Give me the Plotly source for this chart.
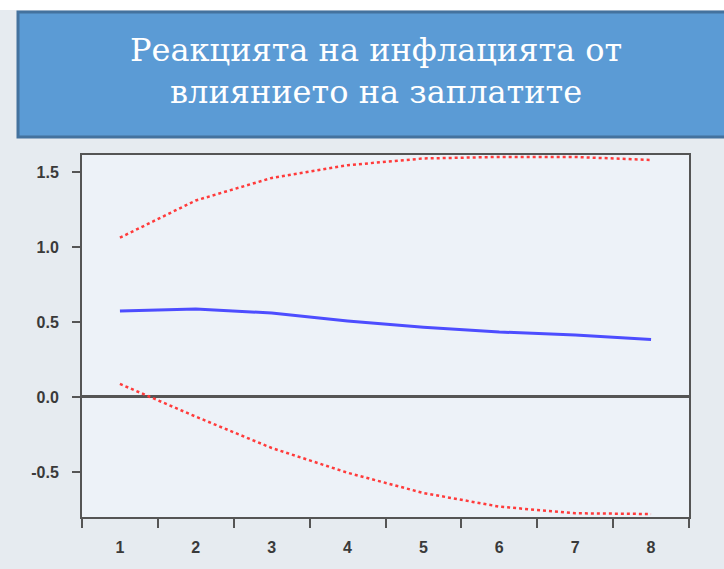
import plotly.graph_objects as go

periods = ["1", "2", "3", "4", "5", "6", "7", "8"]
response = [0.573, 0.587, 0.56, 0.507, 0.465, 0.433, 0.413, 0.383]
upper_band = [1.062, 1.31, 1.46, 1.545, 1.59, 1.6, 1.6, 1.58]
lower_band = [0.087, -0.131, -0.34, -0.505, -0.64, -0.731, -0.775, -0.78]
title_lines = ["Реакцията на инфлацията от", "влиянието на заплатите"]
y_ticks = [-0.5, 0.0, 0.5, 1.0, 1.5]
y_tick_text = ["-0.5", "0.0", "0.5", "1.0", "1.5"]

W, H = 724, 569
L, R, T, B = 82, 35, 155, 52
pw, ph = W - L - R, H - T - B

def px_x(v):
    return (v - L) / pw

def px_y(v):
    return 1 + (T - v) / ph

fig = go.Figure()
fig.add_trace(go.Scatter(x=periods, y=upper_band, mode="lines",
                         line=dict(color="#ff3b3b", width=2.5, dash="dot"),
                         hoverinfo="skip"))
fig.add_trace(go.Scatter(x=periods, y=lower_band, mode="lines",
                         line=dict(color="#ff3b3b", width=2.5, dash="dot"),
                         hoverinfo="skip"))
fig.add_trace(go.Scatter(x=periods, y=response, mode="lines",
                         line=dict(color="#4d4dff", width=3)))

fig.add_shape(type="rect", xref="paper", yref="paper",
              x0=px_x(0), x1=px_x(W), y0=px_y(0), y1=px_y(10),
              fillcolor="#ffffff", line=dict(width=0), layer="below")
fig.add_shape(type="rect", xref="paper", yref="paper",
              x0=px_x(18), x1=px_x(736), y0=px_y(137), y1=px_y(12),
              fillcolor="#5b9bd5", line=dict(color="#44729e", width=3))
fig.add_annotation(xref="paper", yref="paper", x=px_x(376), y=px_y(71),
                   xanchor="center", yanchor="middle", showarrow=False,
                   text="<br>".join(title_lines),
                   font=dict(family="DejaVu Serif", size=32, color="white"))

fig.update_layout(
    width=W, height=H,
    margin=dict(l=L, r=R, t=T, b=B),
    paper_bgcolor="#e6ebf0",
    plot_bgcolor="#edf2f8",
    showlegend=False,
    xaxis=dict(type="category", range=[-0.5, 7.5], tickson="boundaries",
               ticks="outside", ticklen=9, tickwidth=2, tickcolor="#555",
               showgrid=False, showline=True, mirror=True,
               linecolor="#555", linewidth=2, ticklabelstandoff=15,
               tickfont=dict(family="Liberation Sans", size=16, color="#3a3a3a", weight="bold")),
    yaxis=dict(range=[-0.8, 1.613], tickvals=y_ticks, ticktext=y_tick_text,
               ticks="outside", ticklen=8, tickwidth=2, tickcolor="#555",
               showgrid=False, showline=True, mirror=True,
               linecolor="#555", linewidth=2, ticklabelstandoff=10,
               zeroline=True, zerolinecolor="#555", zerolinewidth=3,
               tickfont=dict(family="Liberation Sans", size=16, color="#3a3a3a", weight="bold")),
)

fig.write_html("out.html")
